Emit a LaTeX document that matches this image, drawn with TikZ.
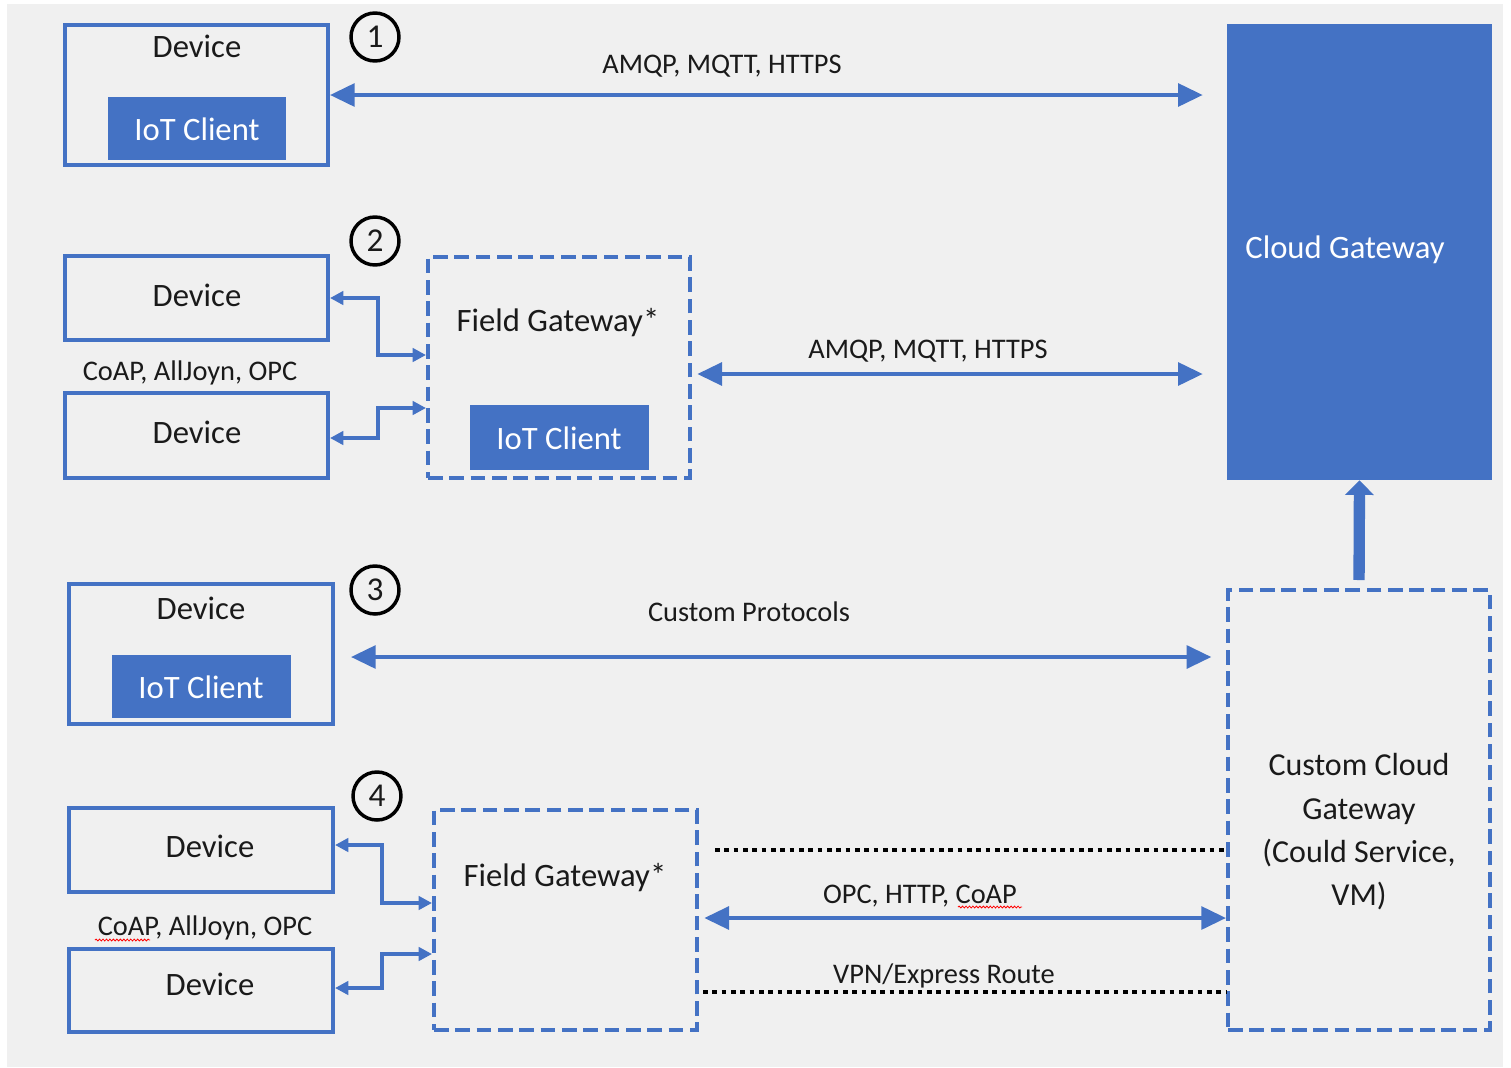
\documentclass[tikz,border=0pt]{standalone}
\usepackage{fontspec}
\setmainfont{Carlito}
\usetikzlibrary{arrows.meta,decorations.pathmorphing,calc}
\definecolor{iotblue}{HTML}{4472C4}
\definecolor{bggray}{HTML}{F0F0F0}
\definecolor{ink}{HTML}{1A1A1A}
\def\upx{0.75pt}

\begin{document}
\begin{tikzpicture}[x=0.75pt,y=-0.75pt,
  every node/.style={text=ink},
  devbox/.style={draw=iotblue,line width=3pt,inner sep=0pt},
  clientbox/.style={fill=iotblue,draw=none,inner sep=0pt},
  gwbox/.style={draw=iotblue,line width=3pt,inner sep=0pt,dash pattern=on 11pt off 5pt},
  cloudbox/.style={fill=iotblue,draw=none,inner sep=0pt},
  numcirc/.style={circle,draw=black,line width=2.6pt,minimum size=48*\upx,inner sep=0pt,
    font=\fontsize{25pt}{28pt}\selectfont},
  bigtext/.style={anchor=base,inner sep=0pt,font=\fontsize{24.5pt}{30pt}\selectfont},
  whitetext/.style={bigtext,text=white},
  lbltext/.style={anchor=base,inner sep=0pt,font=\fontsize{21.3pt}{26pt}\selectfont},
  protoarr/.style={draw=iotblue,line width=3pt,
    {Triangle[length=18.5pt,width=17pt]}-{Triangle[length=18.5pt,width=17pt]}},
  elbarr/.style={draw=iotblue,line width=3pt,
    {Triangle[length=10pt,width=10pt]}-{Triangle[length=10pt,width=10pt]}},
  tunnel/.style={draw=black,line width=3pt,dash pattern=on 3.6pt off 3.4pt},
  uparr/.style={draw=iotblue,line width=8.5pt,-{Triangle[length=11pt,width=21pt]}},
  spell/.style={draw=red,line width=0.6pt,decorate,
    decoration={snake,amplitude=0.7pt,segment length=2.6pt}}
]
% canvas
\useasboundingbox (0,0) rectangle (1511,1068);
\fill[white] (0,0) rectangle (1511,1068);
\fill[bggray] (7,4) rectangle (1503,1067);

% ---------- cloud side ----------
\node[cloudbox,minimum width=265*\upx,minimum height=456*\upx] (cg) at (1359.5,252) {};
\node[whitetext] (cgt) at (1345,258) {Cloud Gateway};

\node[gwbox,minimum width=262*\upx,minimum height=440*\upx] (ccg) at (1359,810) {};
\node[align=center,inner sep=0pt,font=\fontsize{24pt}{32.5pt}\selectfont] (ccgt) at (1359,832)
  {Custom Cloud\\Gateway\\(Could Service,\\VM)};

\draw[uparr,shorten <=6pt] (ccg.north) -- (cg.south);

% ---------- scenario 1 ----------
\node[devbox,minimum width=263*\upx,minimum height=140*\upx] (d1) at (196.5,95) {};
\node[bigtext] (d1t) at (197,57) {Device};
\node[clientbox,minimum width=178*\upx,minimum height=63*\upx] (c1) at (197,128.5) {};
\node[whitetext] (c1t) at (197,140) {IoT Client};
\node[numcirc] (n1) at (375,37) {1};
\draw[protoarr,shorten >=18pt] (d1.east) -- (d1.east -| cg.west);
\node[lbltext] (p1) at (722,73) {AMQP, MQTT, HTTPS};

% ---------- scenario 2 ----------
\node[numcirc] (n2) at (375,241) {2};
\node[devbox,minimum width=263*\upx,minimum height=84*\upx] (d2a) at (196.5,298) {};
\node[bigtext] (d2at) at (197,306) {Device};
\node[lbltext] (p2a) at (190,380) {CoAP, AllJoyn, OPC};
\node[devbox,minimum width=263*\upx,minimum height=85*\upx] (d2b) at (196.5,435.5) {};
\node[bigtext] (d2bt) at (197,443) {Device};

\node[gwbox,minimum width=262*\upx,minimum height=221*\upx] (fg2) at (559,367.5) {};
\node[bigtext] (fg2t) at (558,331) {Field Gateway*};
\node[clientbox,minimum width=179*\upx,minimum height=65*\upx] (c2) at (559.5,437.5) {};
\node[whitetext] (c2t) at (559,449) {IoT Client};

\draw[elbarr] (d2a.east) -| (378,355) -- (fg2.west |- 0,355);
\draw[elbarr] (d2b.east |- 0,438) -| (378,408) -- (fg2.west |- 0,408);

\draw[protoarr,shorten <=4pt,shorten >=18pt] (fg2.east |- 0,374) -- (cg.west |- 0,374);
\node[lbltext] (p2b) at (928,358) {AMQP, MQTT, HTTPS};

% ---------- scenario 3 ----------
\node[numcirc] (n3) at (375,590) {3};
\node[devbox,minimum width=264*\upx,minimum height=140*\upx] (d3) at (201,654) {};
\node[bigtext] (d3t) at (201,619) {Device};
\node[clientbox,minimum width=179*\upx,minimum height=63*\upx] (c3) at (201.5,686.5) {};
\node[whitetext] (c3t) at (201,698) {IoT Client};
\draw[protoarr,shorten <=12pt,shorten >=11pt] (d3.east |- 0,657) -- (ccg.west |- 0,657);
\node[lbltext] (p3) at (749,621) {Custom Protocols};

% ---------- scenario 4 ----------
\node[numcirc] (n4) at (377,796) {4};
\node[devbox,minimum width=264*\upx,minimum height=84*\upx] (d4a) at (201,850) {};
\node[bigtext] (d4at) at (210,857) {Device};
\node[lbltext] (p4a) at (205,935) {CoAP, AllJoyn, OPC};
\node[devbox,minimum width=264*\upx,minimum height=83*\upx] (d4b) at (201,990.5) {};
\node[bigtext] (d4bt) at (210,995) {Device};

\node[gwbox,minimum width=263*\upx,minimum height=220*\upx] (fg4) at (565.5,920) {};
\node[bigtext] (fg4t) at (565,886) {Field Gateway*};

\draw[elbarr] (d4a.east |- 0,845) -| (382,903) -- (fg4.west |- 0,903);
\draw[elbarr] (d4b.east |- 0,988) -| (382,954) -- (fg4.west |- 0,954);

\draw[tunnel,shorten <=12pt] (fg4.east |- 0,850) -- (ccg.west |- 0,850);
\draw[protoarr,shorten <=4pt] (fg4.east |- 0,918) -- (ccg.west |- 0,918);
\draw[tunnel,shorten <=3pt] (fg4.east |- 0,992) -- (ccg.west |- 0,992);
\node[lbltext] (p4b) at (920,903) {OPC, HTTP, CoAP};
\node[lbltext] (p4c) at (944,983) {VPN/Express Route};

% proofing marks under the word CoAP
\draw[spell] (95,940) -- (150,940);
\draw[spell] (958,907) -- (1022,907);
\end{tikzpicture}
\end{document}
